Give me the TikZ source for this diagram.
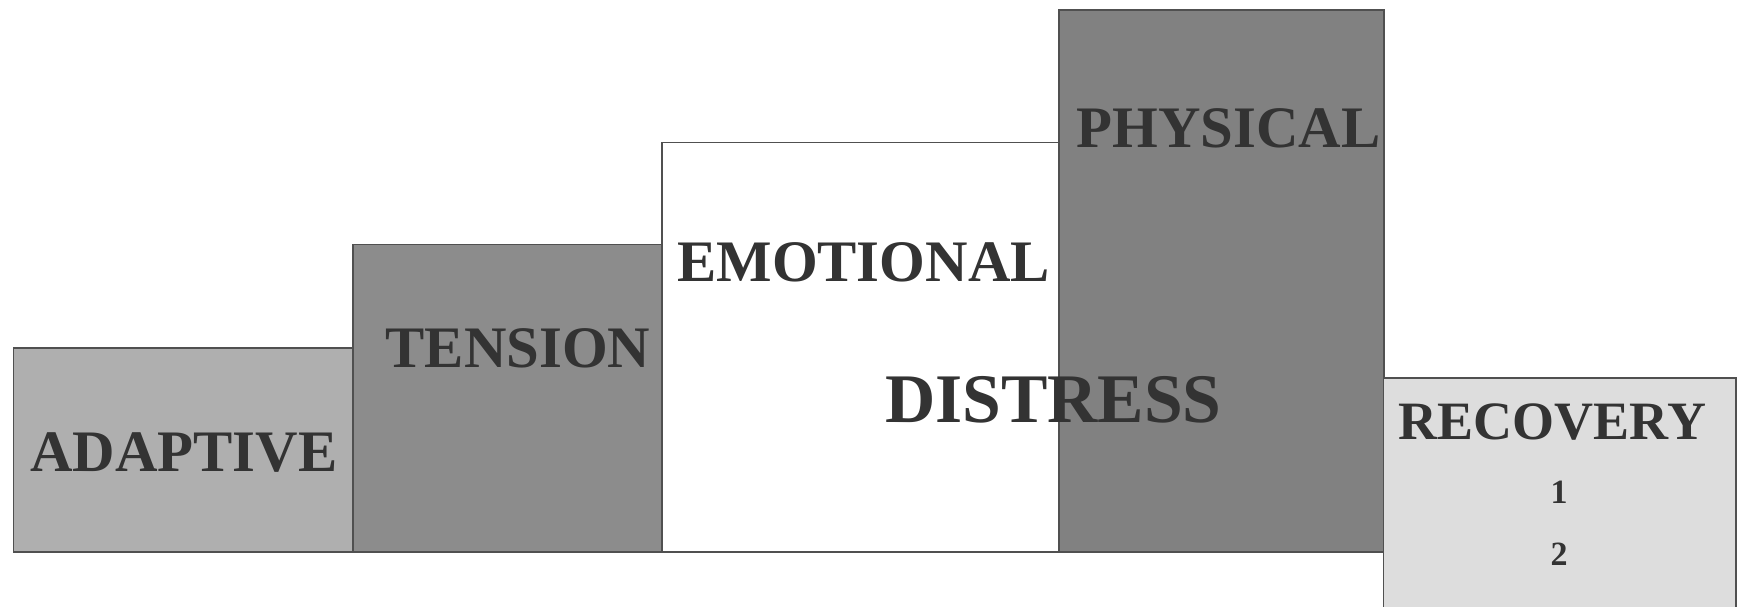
\documentclass[tikz,border=0pt]{standalone}
\usepackage{fontspec}
\setmainfont{Liberation Serif}
\usetikzlibrary{positioning}

\definecolor{adaptgray}{HTML}{AFAFAF}
\definecolor{tensgray}{HTML}{8C8C8C}
\definecolor{physgray}{HTML}{818181}
\definecolor{recgray}{HTML}{DDDDDD}
\definecolor{inkgray}{HTML}{333333}
\definecolor{edgegray}{HTML}{505050}

\begin{document}
\begin{tikzpicture}[x=0.5pt, y=-0.5pt,
    bar/.style={draw=edgegray, line width=0.8pt},
    lbl/.style={font=\fontsize{29.4}{34}\selectfont\bfseries, text=inkgray, inner sep=0pt, anchor=base}]
      \useasboundingbox (0,0) rectangle (1743,606);
      \clip (0,0) rectangle (1743,606);
      \draw[bar, fill=adaptgray] (13.5,347.7) rectangle (353,552);
      \draw[bar, fill=tensgray] (353,244.3) rectangle (661.7,552);
      \draw[bar, fill=white] (661.7,142.3) rectangle (1059,552);
      \draw[bar, fill=physgray] (1059,10) rectangle (1384,552);
      \draw[bar, fill=recgray] (1383.5,377.7) rectangle (1735.7,640);
      \node[lbl] (adaptive) at (184,471.7) {ADAPTIVE};
      \node[lbl] (tension) at (518,367.3) {TENSION};
      \node[lbl] (emotional) at (863.5,281) {EMOTIONAL};
      \node[lbl] (physical) at (1228.5,147.7) {PHYSICAL};
      \node[lbl, font=\fontsize{34.8}{40}\selectfont\bfseries] (distress) at (1053.3,422.7) {DISTRESS};
      \node[lbl, font=\fontsize{27}{32}\selectfont\bfseries] (recovery) at (1552.5,439) {RECOVERY};
      \node[lbl, font=\fontsize{17}{20}\selectfont\bfseries] (rec1) at (1559,503.3) {1};
      \node[lbl, font=\fontsize{17}{20}\selectfont\bfseries] (rec2) at (1559,565.7) {2};
    \end{tikzpicture}
\end{document}
